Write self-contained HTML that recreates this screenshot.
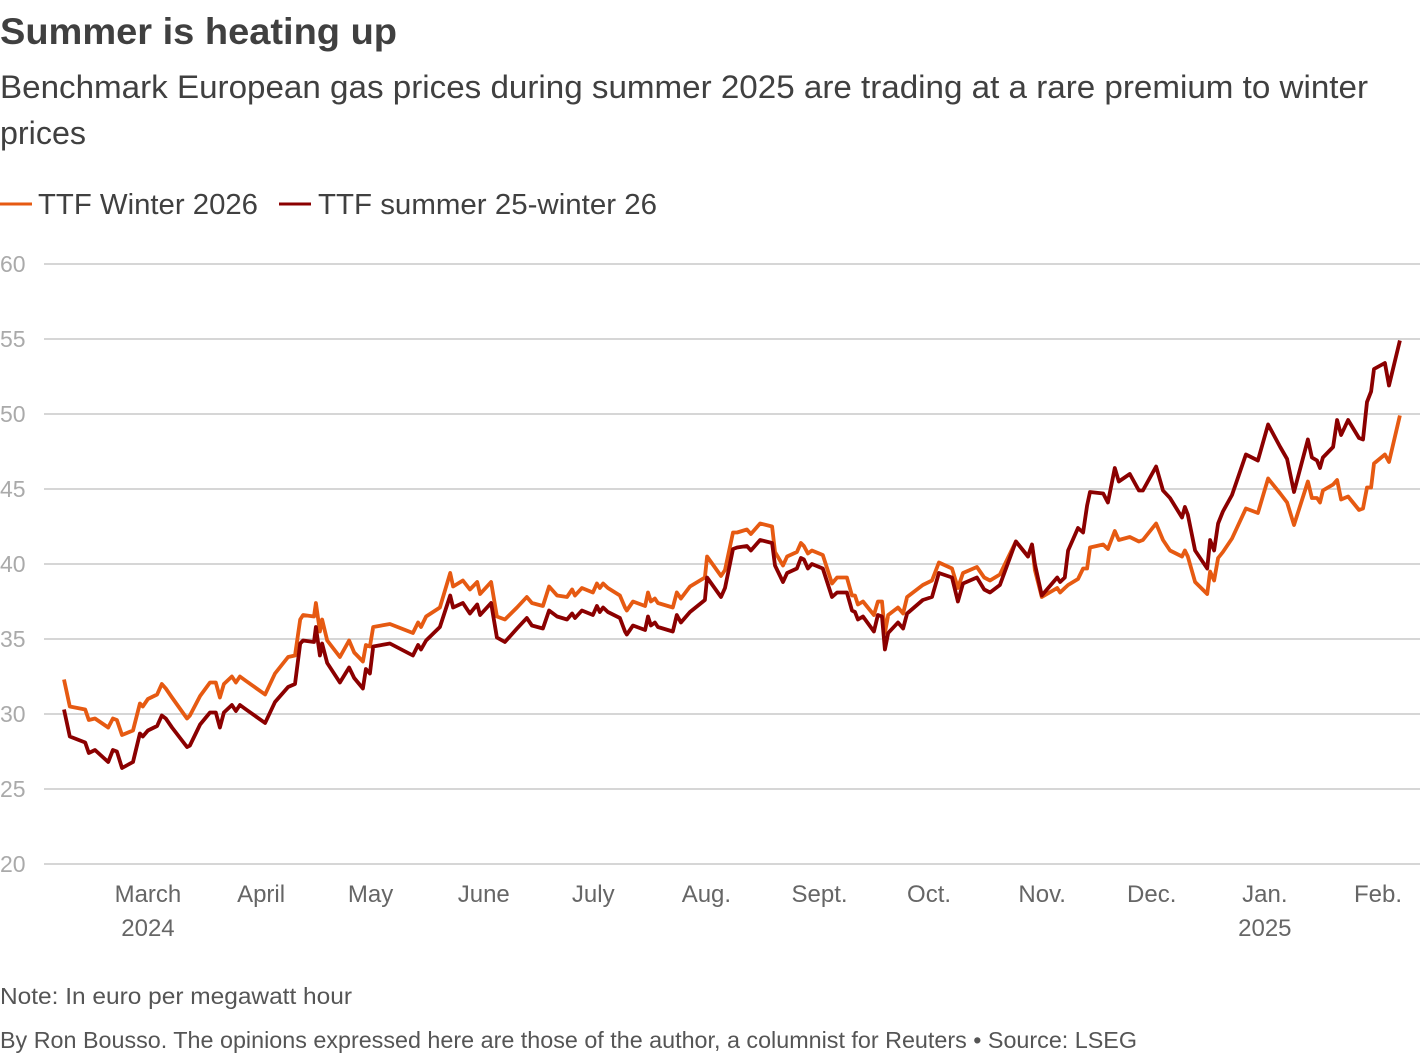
<!DOCTYPE html>
<html><head><meta charset="utf-8">
<style>
html,body{margin:0;padding:0;background:#fff;}
svg{display:block;font-family:"Liberation Sans",sans-serif;}
</style></head>
<body>
<svg id="chart" width="1420" height="1054" viewBox="0 0 1420 1054">
<text x="0" y="44" font-size="37" font-weight="bold" fill="#404040" textLength="397" lengthAdjust="spacingAndGlyphs">Summer is heating up</text>
<text x="0" y="98" font-size="32" fill="#404040" textLength="1368" lengthAdjust="spacingAndGlyphs">Benchmark European gas prices during summer 2025 are trading at a rare premium to winter</text>
<text x="0" y="144" font-size="32" fill="#404040" textLength="86" lengthAdjust="spacingAndGlyphs">prices</text>
<g>
<line x1="0" y1="204" x2="32" y2="204" stroke="#e65a12" stroke-width="3"/>
<text x="38" y="214" font-size="29" fill="#404040" textLength="220" lengthAdjust="spacingAndGlyphs">TTF Winter 2026</text>
<line x1="279" y1="204" x2="311" y2="204" stroke="#8b0000" stroke-width="3"/>
<text x="318" y="214" font-size="29" fill="#404040" textLength="339" lengthAdjust="spacingAndGlyphs">TTF summer 25-winter 26</text>
</g>
<g id="grid"></g>
<g id="xaxis"></g>
<g id="series"></g>
<text x="0" y="1004" font-size="23" fill="#555" textLength="352" lengthAdjust="spacingAndGlyphs">Note: In euro per megawatt hour</text>
<text x="0" y="1048" font-size="23" fill="#555" textLength="1137" lengthAdjust="spacingAndGlyphs">By Ron Bousso. The opinions expressed here are those of the author, a columnist for Reuters • Source: LSEG</text>
</svg>
<script>
// days since 7 Feb 2024
const dayOffsets = [0,1.6,5.8,6.8,8.5,12.1,13.4,14.5,15.9,18.9,20.8,21.6,23.0,25.5,26.8,27.9,29.6,33.7,34.5,37.3,40.0,41.6,42.7,43.8,46.0,47.1,48.2,49.9,55.1,57.8,61.4,63.3,64.7,65.5,68.5,69.0,70.1,70.7,72.1,75.6,78.1,79.5,81.9,82.7,83.8,84.7,89.3,95.6,97.0,97.8,99.2,103.0,105.8,106.6,109.3,111.2,113.2,114.0,117.0,118.6,120.8,124.1,126.8,128.2,131.2,132.9,135.1,137.8,139.2,140.0,141.9,144.9,146.0,146.8,147.7,149.0,152.3,153.7,154.2,155.9,159.2,160.0,160.8,161.9,162.7,166.8,167.9,169.0,171.5,175.6,176.2,180.0,181.1,183.3,184.4,187.1,188.2,190.7,194.0,194.8,197.0,198.1,200.8,201.9,202.7,203.8,204.9,207.9,210.4,211.8,214.5,215.9,216.7,217.5,218.9,221.9,223.0,224.1,224.9,225.8,228.5,229.9,231.0,235.3,237.8,239.7,243.3,244.9,246.3,250.1,252.1,253.7,256.4,260.8,264.1,265.2,266.0,267.9,272.1,272.9,274.2,275.1,277.8,279.2,280.3,281.1,284.7,286.0,287.9,289.0,292.0,294.5,295.6,299.2,301.1,303.0,306.3,307.1,307.9,309.9,313.2,314.0,315.1,316.2,317.5,320.0,323.8,327.1,329.9,333.2,335.1,337.0,340.8,341.9,343.3,344.1,344.9,347.7,348.8,349.9,351.8,354.8,355.9,357.0,358.1,358.9,361.9,363.0,366.0];
const winter2026 = [32.3,30.5,30.3,29.6,29.7,29.1,29.7,29.6,28.6,28.9,30.7,30.5,31.0,31.3,32.0,31.7,31.1,29.7,29.9,31.2,32.1,32.1,31.1,32.0,32.5,32.1,32.5,32.2,31.3,32.7,33.8,33.9,36.3,36.6,36.5,37.4,35.5,36.3,34.9,33.8,34.9,34.1,33.5,34.6,34.5,35.8,36.0,35.4,36.1,35.8,36.5,37.1,39.4,38.5,38.9,38.3,38.8,38.0,38.8,36.5,36.3,37.1,37.8,37.4,37.2,38.5,37.9,37.8,38.3,37.9,38.4,38.1,38.7,38.4,38.7,38.4,37.9,37.1,36.9,37.5,37.2,38.1,37.5,37.7,37.4,37.1,38.1,37.7,38.5,39.1,40.5,39.2,39.6,42.1,42.1,42.3,42.0,42.7,42.5,40.8,39.9,40.5,40.8,41.4,41.2,40.7,40.9,40.6,38.7,39.1,39.1,37.9,37.9,37.3,37.5,36.6,37.5,37.5,35.4,36.6,37.1,36.7,37.8,38.6,38.9,40.1,39.7,38.4,39.4,39.8,39.1,38.9,39.3,41.5,40.5,41.3,39.6,37.8,38.4,38.1,38.4,38.6,39.0,39.7,39.7,41.1,41.3,41.0,42.2,41.6,41.8,41.5,41.6,42.7,41.6,40.9,40.5,40.9,40.5,38.8,38.0,39.5,38.9,40.4,40.8,41.7,43.7,43.4,45.7,44.7,44.1,42.6,45.5,44.4,44.4,44.1,44.9,45.3,45.6,44.3,44.5,43.6,43.7,45.1,45.1,46.7,47.3,46.8,49.9];
const summerWinterSpread = [30.3,28.5,28.1,27.4,27.6,26.8,27.6,27.5,26.4,26.8,28.7,28.5,28.9,29.2,29.9,29.7,29.1,27.8,27.9,29.3,30.1,30.1,29.1,30.1,30.6,30.2,30.6,30.3,29.4,30.8,31.8,32.0,34.7,34.9,34.8,35.8,33.9,34.7,33.4,32.1,33.1,32.4,31.7,33.0,32.7,34.5,34.7,33.9,34.6,34.3,34.9,35.8,37.9,37.1,37.4,36.7,37.3,36.6,37.4,35.1,34.8,35.7,36.4,35.9,35.7,36.9,36.5,36.3,36.7,36.4,36.9,36.6,37.2,36.8,37.1,36.8,36.4,35.5,35.3,35.9,35.6,36.5,35.9,36.1,35.8,35.5,36.6,36.1,36.8,37.6,39.1,37.8,38.4,41.0,41.1,41.2,40.9,41.6,41.4,39.9,38.8,39.4,39.7,40.4,40.3,39.7,40.0,39.7,37.8,38.1,38.1,36.9,36.8,36.3,36.5,35.5,36.6,36.5,34.3,35.4,36.1,35.7,36.7,37.6,37.8,39.4,39.1,37.5,38.7,39.1,38.3,38.1,38.6,41.5,40.5,41.3,40.0,37.9,39.1,38.8,39.1,40.9,42.4,42.1,43.9,44.8,44.7,44.1,46.4,45.5,46.0,44.9,44.9,46.5,44.9,44.4,43.1,43.8,43.3,40.9,39.7,41.6,40.9,42.7,43.5,44.6,47.3,46.9,49.3,47.8,47.0,44.8,48.3,47.1,46.9,46.4,47.1,47.8,49.6,48.6,49.6,48.4,48.3,50.8,51.5,53.0,53.4,51.9,54.9];
const yTicks = [20,25,30,35,40,45,50,55,60];
const monthLabels = ["March","April","May","June","July","Aug.","Sept.","Oct.","Nov.","Dec.","Jan.","Feb."];
const monthDays = [23,54,84,115,145,176,207,237,268,298,329,360];
const yearLabels = ["2024","2025"];
const yearLabelDays = [23,329];

const NS = "http://www.w3.org/2000/svg";
const X0 = 64, PXD = 3.65;
const xScale = d => X0 + d * PXD;
const yScale = v => 864 - (v - 20) * 15;

const grid = document.getElementById('grid');
yTicks.forEach(t => {
  const l = document.createElementNS(NS,'line');
  l.setAttribute('x1', 44); l.setAttribute('x2', 1420);
  l.setAttribute('y1', yScale(t)); l.setAttribute('y2', yScale(t));
  l.setAttribute('stroke', '#c8c8c8'); l.setAttribute('stroke-width', 1.5);
  
  
  grid.appendChild(l);
  const tx = document.createElementNS(NS,'text');
  tx.setAttribute('x', 0); tx.setAttribute('y', yScale(t) + 8);
  tx.setAttribute('font-size', 23); tx.setAttribute('fill', '#aaa');
  tx.textContent = t;
  
  
  grid.appendChild(tx);
});

const xa = document.getElementById('xaxis');
monthLabels.forEach((m, i) => {
  const tx = document.createElementNS(NS,'text');
  tx.setAttribute('x', xScale(monthDays[i])); tx.setAttribute('y', 902);
  tx.setAttribute('font-size', 24); tx.setAttribute('fill', '#666');
  tx.setAttribute('text-anchor', 'middle');
  tx.textContent = m;
  
  
  xa.appendChild(tx);
});
yearLabels.forEach((y, i) => {
  const tx = document.createElementNS(NS,'text');
  tx.setAttribute('x', xScale(yearLabelDays[i])); tx.setAttribute('y', 936);
  tx.setAttribute('font-size', 24); tx.setAttribute('fill', '#666');
  tx.setAttribute('text-anchor', 'middle');
  tx.textContent = y;
  
  
  xa.appendChild(tx);
});

const series = document.getElementById('series');
function drawLine(vals, color, name) {
  const p = document.createElementNS(NS,'path');
  p.setAttribute('d', vals.map((v,i) => (i ? 'L' : 'M') + xScale(dayOffsets[i]).toFixed(1) + ',' + yScale(v).toFixed(1)).join(''));
  p.setAttribute('fill', 'none'); p.setAttribute('stroke', color);
  p.setAttribute('stroke-width', 3.8); p.setAttribute('stroke-linejoin', 'round');
  
  
  series.appendChild(p);
}
drawLine(winter2026, '#e65a12', 'line-ttf-winter-2026');
drawLine(summerWinterSpread, '#8b0000', 'line-ttf-summer25-winter26');
</script>
</body></html>
